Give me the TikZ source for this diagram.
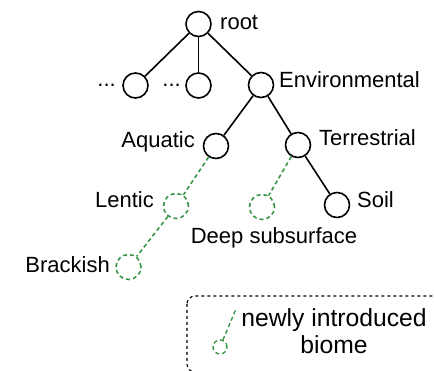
\documentclass[tikz,border=0pt]{standalone}
\usepackage{fontspec}
\setmainfont{Liberation Sans}
\definecolor{newgreen}{RGB}{56,150,70}
\begin{document}
\begin{tikzpicture}[x=1pt,y=-1pt,
  biome/.style={circle,draw,line width=1.6pt,minimum size=25pt,inner sep=0pt},
  newbiome/.style={biome,draw=newgreen,dash pattern=on 4pt off 3pt},
  edge/.style={line width=1.6pt},
  newedge/.style={line width=1.6pt,draw=newgreen,dash pattern=on 4pt off 3pt},
  lbl/.style={font=\fontsize{22}{26}\selectfont,inner sep=0pt},
  leglbl/.style={font=\fontsize{24.7}{29}\selectfont,inner sep=0pt},
  legendbox/.style={draw,line width=1.1pt,dash pattern=on 3pt off 3pt,rounded corners=8pt}]
\useasboundingbox (0,0) rectangle (434,371);

% tree nodes
\node[biome] (root) at (198.5,24) {};
\node[biome] (other1) at (135.5,85.5) {};
\node[biome] (other2) at (198.5,85.5) {};
\node[biome] (env) at (261,85) {};
\node[biome] (aqua) at (216,146) {};
\node[biome] (terr) at (298,145) {};
\node[biome] (soil) at (337,205) {};
\node[newbiome] (lentic) at (176,206) {};
\node[newbiome] (deep) at (262,207) {};
\node[newbiome] (brack) at (128.5,267) {};

% labels
\node[lbl,anchor=base west] (rootl) at (220,30) {root};
\node[lbl,anchor=base east] (dots1) at (116,87) {...};
\node[lbl,anchor=base east] (dots2) at (181,87) {...};
\node[lbl,anchor=base west] (envl) at (279,88) {Environmental};
\node[lbl,anchor=base east] (aqual) at (195,147.5) {Aquatic};
\node[lbl,anchor=base west] (terrl) at (319,146) {Terrestrial};
\node[lbl,anchor=base west] (soill) at (357,208) {Soil};
\node[lbl,anchor=base east] (lenticl) at (154,208) {Lentic};
\node[lbl,anchor=base] (deepl) at (274,243.5) {Deep subsurface};
\node[lbl,anchor=base east] (brackl) at (110,273) {Brackish};

% existing edges
\draw[edge] (root) -- (other1);
\draw[edge] (root) -- (other2);
\draw[edge] (root) -- (env);
\draw[edge] (env) -- (aqua);
\draw[edge] (env) -- (terr);
\draw[edge] (terr) -- (soil);

% newly introduced edges
\draw[newedge] (aqua) -- (lentic);
\draw[newedge] (lentic) -- (brack);
\draw[newedge] (terr) -- (deep);

% legend
\draw[legendbox] (187,296) rectangle (480,372);
\node[newbiome,minimum size=14pt,line width=1.4pt] (legc) at (220,347) {};
\coordinate (legtop) at (236,309);
\draw[newedge,line width=1.4pt] (legc) -- (legtop);
\node[leglbl,anchor=base] (legl1) at (334,327) {newly introduced};
\node[leglbl,anchor=base] (legl2) at (334,354) {biome};
\end{tikzpicture}
\end{document}
